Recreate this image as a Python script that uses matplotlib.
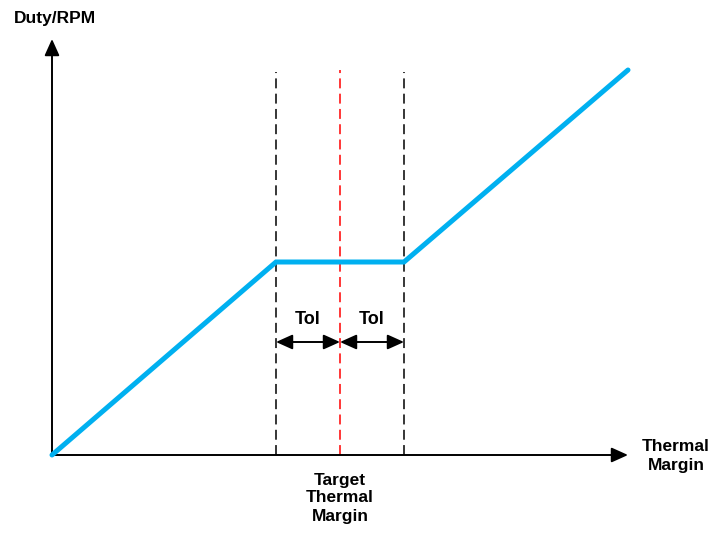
import matplotlib
matplotlib.use("Agg")
import matplotlib.pyplot as plt

plt.rcParams['font.family'] = ['Liberation Sans', 'DejaVu Sans']

# Data (diagram units)
margin = [0, 224, 352, 576]
duty = [0, 193, 193, 385]
target = 288
tol = 64
dash_top = 383
axis_x_end = 576
axis_y_end = 416

fig = plt.figure(figsize=(7.13, 5.33), dpi=100)
ax = fig.add_axes([0, 0, 1, 1])
ax.set_xlim(-52, 661)
ax.set_ylim(-78, 455)
ax.axis('off')

head = '-|>,head_length=1.0,head_width=0.45'
# axes arrows
ax.annotate('', xy=(axis_x_end, 0), xytext=(0, 0),
            arrowprops=dict(arrowstyle=head, color='black', lw=1.4, shrinkA=0, shrinkB=0))
ax.annotate('', xy=(0, axis_y_end), xytext=(0, 0),
            arrowprops=dict(arrowstyle=head, color='black', lw=1.4, shrinkA=0, shrinkB=0))

# dashed lines
for xv in [target - tol, target + tol]:
    ax.plot([xv, xv], [0, dash_top], color='black', lw=1.1, dashes=(6.5, 3.5))
ax.plot([target, target], [0, dash_top + 2], color='#FF0000', lw=1.1, dashes=(6.5, 3.5))

# curve
ax.plot(margin, duty, color='#00B0F0', lw=3.6, solid_capstyle='round', solid_joinstyle='miter', zorder=5)

# tolerance arrows
ay = 113
for x0, x1 in [(target - tol, target), (target, target + tol)]:
    ax.annotate('', xy=(x0, ay), xytext=(x1, ay),
                arrowprops=dict(arrowstyle='<|-|>,head_length=1.0,head_width=0.45', color='black', lw=1.4, shrinkA=0, shrinkB=0))
    ax.text((x0 + x1) / 2, 136, 'Tol', ha='center', va='center', fontsize=13, fontweight='bold')

ax.text(3, 437, 'Duty/RPM', ha='center', va='center', fontsize=12.5, fontweight='bold')
ax.text(624, -1, 'Thermal\nMargin', ha='center', va='center', fontsize=12.5, fontweight='bold', linespacing=1.3)
ax.text(target, -43, 'Target\nThermal\nMargin', ha='center', va='center', fontsize=12.5, fontweight='bold', linespacing=1.25)

fig.savefig('out.png', dpi=100)
